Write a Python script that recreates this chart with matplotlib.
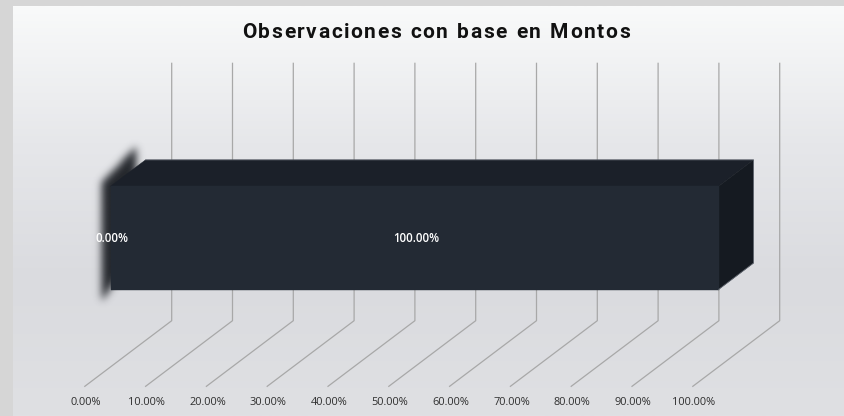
import numpy as np
import matplotlib
matplotlib.use("Agg")
import matplotlib.pyplot as plt
from matplotlib.patches import Polygon
from matplotlib.path import Path
from matplotlib.colors import LinearSegmentedColormap

# ---------------- data ----------------
title = "Observaciones con base en Montos"
series_values = [0.0, 100.0]            # stacked 100% bar segments
series_labels = ["0.00%", "100.00%"]
tick_values = [0, 10, 20, 30, 40, 50, 60, 70, 80, 90, 100]
tick_labels = ["0.00%", "10.00%", "20.00%", "30.00%", "40.00%", "50.00%",
               "60.00%", "70.00%", "80.00%", "90.00%", "100.00%"]

# ---------------- layout / projection ----------------
W, H = 844, 416
fig = plt.figure(figsize=(W / 100, H / 100), dpi=100)
fig.patch.set_facecolor("#d6d6d6")

# background panel with vertical gradient
bg = fig.add_axes([13 / W, 0, 1 - 13 / W, 1 - 6 / H])
grad = np.linspace(0, 1, 256).reshape(-1, 1)
cm = LinearSegmentedColormap.from_list("g", ["#f9fafa", "#e6e7ea", "#dadbdf", "#dfe0e3"])
bg.imshow(grad, aspect="auto", cmap=cm, extent=[0, 1, 0, 1], origin="upper")
bg.set_axis_off()

ax = fig.add_axes([0, 0, 1, 1])
ax.set_axis_off()
ax.patch.set_alpha(0)

SX = 6.08          # px per percent
X0 = 84.3          # px of 0% at front of floor
FLOOR_Y = 386.7    # px of floor front edge
DXP = 87.4         # depth shift in px (x)
DYP = 66.0         # depth shift in px (y)
WALL_H = 258.0     # wall height (px units)

ax.set_xlim(-X0 / SX, (W - X0) / SX)
ax.set_ylim(FLOOR_Y - H, FLOOR_Y)
ax.set_autoscale_on(False)
DX = DXP / SX


def P(v, z, h):
    """oblique projection: value, depth (0 front .. 1 back), height"""
    return (v + DX * z, h + DYP * z)


grid_c = "#a8a8a8"
for v in tick_values:
    xs, ys = zip(P(v, 0, 0), P(v, 1, 0), P(v, 1, WALL_H))
    ax.plot(xs, ys, color=grid_c, lw=0.9, solid_capstyle="butt", zorder=1)
for v, lab in zip(tick_values, tick_labels):
    tx, ty = P(v, 0, 0)
    ax.text(tx + 0.25, ty - 15.5, lab, ha="center", va="center", fontsize=7.9,
            family="Open Sans", color="#2e2e2e", zorder=5)

# bar geometry (one category, gap width 150%)
gap = 1.5
frac = 1 / (1 + gap)
h0 = WALL_H * (1 - frac) / 2
h1 = h0 + WALL_H * frac
z0 = 0.5 - frac / 2
z1 = z0 + frac

cum = np.concatenate([[0], np.cumsum(series_values)])

# soft (gaussian-blurred) shadow at the zero-width first segment
sv = cum[0]
face = [P(sv, z0, h0 - 12), P(sv, z0, h1 + 4), P(sv, z1, h1 + 14), P(sv, z1, h0 + 14)]
face = [(x - 9 / SX, y) for x, y in face]
xmin, xmax = min(p[0] for p in face) - 24 / SX, max(p[0] for p in face) + 24 / SX
ymin, ymax = min(p[1] for p in face) - 24, max(p[1] for p in face) + 24
gx = np.arange(xmin, xmax, 1 / SX)
gy = np.arange(ymin, ymax, 1.0)
XX, YY = np.meshgrid(gx, gy)
mask = Path(face).contains_points(np.c_[XX.ravel(), YY.ravel()]).reshape(XX.shape).astype(float)
sig = 4.0
k = np.exp(-0.5 * (np.arange(-14, 15) / sig) ** 2)
k /= k.sum()
blur = np.apply_along_axis(lambda r: np.convolve(r, k, mode="same"), 1, mask)
blur = np.apply_along_axis(lambda c: np.convolve(c, k, mode="same"), 0, blur)
rgba = np.zeros(blur.shape + (4,))
rgba[..., :3] = np.array([0x24, 0x27, 0x2c]) / 255
rgba[..., 3] = np.clip(blur * 1.0, 0, 1)
ax.imshow(rgba, extent=[gx[0], gx[-1], gy[0], gy[-1]], origin="lower",
          aspect="auto", interpolation="bilinear", zorder=2)
ax.set_xlim(-X0 / SX, (W - X0) / SX)
ax.set_ylim(FLOOR_Y - H, FLOOR_Y)

front_c = "#232a34"
top_c = "#1b2029"
side_c = "#151a21"
edge_c = "#6a707a"
for i, val in enumerate(series_values):
    a, b = cum[i], cum[i + 1]
    if b - a <= 0:
        continue
    top = [P(a, z0, h1), P(b, z0, h1), P(b, z1, h1), P(a, z1, h1)]
    side = [P(b, z0, h0), P(b, z1, h0), P(b, z1, h1), P(b, z0, h1)]
    front = [P(a, z0, h0), P(b, z0, h0), P(b, z0, h1), P(a, z0, h1)]
    ax.add_patch(Polygon(top, closed=True, facecolor=top_c, edgecolor=top_c, lw=0.3, zorder=3))
    ax.add_patch(Polygon(side, closed=True, facecolor=side_c, edgecolor=side_c, lw=0.3, zorder=3))
    ax.add_patch(Polygon(front, closed=True, facecolor=front_c, edgecolor=front_c, lw=0.3, zorder=3))
    sil = [P(a, z1, h1), P(b, z1, h1), P(b, z1, h0), P(b, z0, h0)]
    xs, ys = zip(*sil)
    ax.plot(xs, ys, color=edge_c, lw=0.6, alpha=0.8, zorder=4)

# data labels
for i, lab in enumerate(series_labels):
    mid = (cum[i] + cum[i + 1]) / 2
    x, y = P(mid, z0, (h0 + h1) / 2)
    ax.text(x + 0.25, y - 1, lab, ha="center", va="center", fontsize=8.3,
            family="Open Sans", fontweight="semibold", color="white", zorder=6)

# title with letter spacing (placed char by char)
fig.canvas.draw()
renderer = fig.canvas.get_renderer()
tfs = 15
spacing = 1.6
widths = []
for ch in title:
    t = fig.text(0, 0, ch if ch != " " else "n", fontsize=tfs, family="Roboto", fontweight="bold")
    bb = t.get_window_extent(renderer)
    widths.append(bb.width * (0.5 if ch == " " else 1.0))
    t.remove()
total = sum(widths) + spacing * (len(title) - 1)
x = 436 - total / 2
for ch, w in zip(title, widths):
    if ch != " ":
        fig.text(x / W, 1 - 32 / H, ch, ha="left", va="center", fontsize=tfs,
                 family="Roboto", fontweight="bold", color="#111111")
    x += w + spacing

fig.savefig("out.png", dpi=100)
